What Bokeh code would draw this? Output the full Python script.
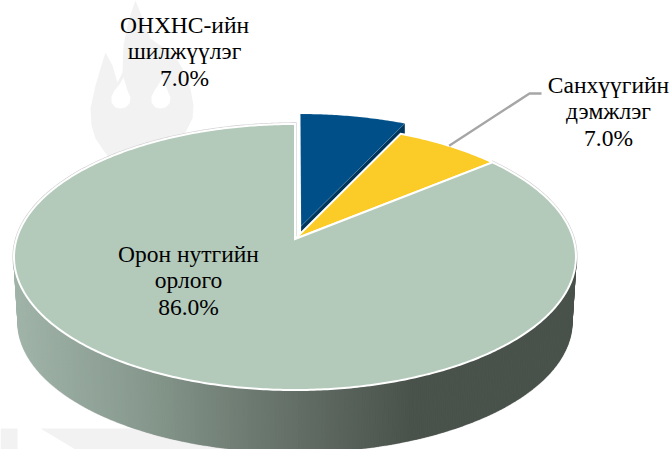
import numpy as np
from bokeh.plotting import figure
from bokeh.models import Range1d
from bokeh.core.properties import value
from bokeh.embed import file_html
from bokeh.resources import INLINE

# ---- data ----
categories = ["ОНХНС-ийн шилжүүлэг", "Санхүүгийн дэмжлэг", "Орон нутгийн орлого"]
shares = [7.0, 7.0, 86.0]
label_lines = [["ОНХНС-ийн", "шилжүүлэг", "7.0%"],
               ["Санхүүгийн", "дэмжлэг", "7.0%"],
               ["Орон нутгийн", "орлого", "86.0%"]]
top_colors = ["#004f88", "#fbcb27", "#b3cabb"]
explode = [0.102, 0.0, 0.0]

# ---- projection of the tilted disc ----
CX, CY, A, B, K = 294.5, 238.5, 278.4, 130.6, 0.1353
DEPTH, A2, B2 = 65.0, 0.985, 0.98
LEFT, TOP, W, H = 0, 0, 672, 449


def project(theta, r=1.0, ox=0.0, od=0.0, bottom=False):
    X = r * np.sin(theta) + ox
    D = -r * np.cos(theta) + od
    den = 1 - K * D
    sa, sb, dy = (A2, B2, DEPTH) if bottom else (1.0, 1.0, 0.0)
    return CX + sa * A * X / den, CY + dy + sb * B * D / den


p = figure(width=W, height=H, x_range=Range1d(LEFT, LEFT + W), y_range=Range1d(TOP + H, TOP),
           output_backend="svg", toolbar_location=None, min_border=0)
p.axis.visible = False
p.grid.visible = False
p.outline_line_color = None

# ---- faint watermark behind the chart ----
WM = "#f2f2f2"
flame_x = [135, 128, 123, 122, 117, 112, 105, 100, 95, 90, 91, 95, 103, 115, 175, 186, 192, 193, 190, 182, 172, 160, 150, 143]
flame_y = [0, 20, 45, 72, 82, 65, 52, 68, 85, 108, 125, 138, 150, 165, 165, 130, 118, 105, 88, 68, 52, 45, 38, 20]
p.patch(flame_x, flame_y, fill_color=WM, line_color=None)
drop_x = [123, 127, 130, 129, 125, 120, 115, 111, 111, 114, 119]
drop_y = [77, 90, 97, 103, 107, 108, 107, 102, 96, 90, 84]
p.patch(drop_x, drop_y, fill_color="white", line_color=None)
drop_x2 = [162, 167, 170, 169, 165, 160, 155, 151, 151, 154, 158]
p.patch(drop_x2, drop_y, fill_color="white", line_color=None)
p.patch([0, 17, 17, 0], [428, 428, 449, 449], fill_color=WM, line_color=None)
p.patch([40, 300, 300, 75], [428, 428, 449, 449], fill_color=WM, line_color=None)

# ---- slice geometry (clockwise from twelve o'clock) ----
edges = np.cumsum([0.0] + shares) / sum(shares) * 2 * np.pi
mids = (edges[:-1] + edges[1:]) / 2


def slice_outline(i):
    e = explode[i]
    ox, od = e * np.sin(mids[i]), -e * np.cos(mids[i])
    th = np.linspace(edges[i], edges[i + 1], int(max(20, shares[i] * 6)))
    xs, ys = project(th, 1.0, ox, od)
    ax, ay = project(0.0, 0.0, ox, od)
    return np.r_[ax, xs], np.r_[ay, ys]


# faint rim of the large slice, behind the wall
hx, hy = slice_outline(2)
p.patch(hx, hy, fill_color=None, line_color="#cfcfcf", line_width=3.2, line_join="miter")

# ---- side wall ----
stops_x = [18, 130, 250, 336, 410, 575]
stops_c = [(160, 179, 168), (138, 156, 145), (109, 122, 113), (90, 100, 93), (73, 82, 75), (73, 82, 75)]


def side_color(x):
    return "#%02x%02x%02x" % tuple(int(round(np.interp(x, stops_x, [c[i] for c in stops_c]))) for i in range(3))


th_side = np.radians(np.linspace(97.8, 262.2, 200))
sx, sy, sc = [], [], []
for t0, t1 in zip(th_side[:-1], th_side[1:]):
    x0, y0 = project(t0)
    x1, y1 = project(t1)
    x2, y2 = project(t1, bottom=True)
    x3, y3 = project(t0, bottom=True)
    sx.append([x0, x1, x2, x3])
    sy.append([y0, y1, y2, y3])
    sc.append(side_color((x0 + x1 + x2 + x3) / 4))
bx, by = project(th_side, bottom=True)
tx, ty = project(th_side)
p.line(bx, by, line_color="#d5d5d5", line_width=2.5)
p.line([tx[0], bx[0]], [ty[0], by[0]], line_color="#d5d5d5", line_width=2)
p.line([tx[-1], bx[-1]], [ty[-1], by[-1]], line_color="#d5d5d5", line_width=2)
p.patches(sx, sy, fill_color=sc, line_color=sc, line_width=1.6)

# side face of the pulled-out slice
ox0, od0 = explode[0] * np.sin(mids[0]), -explode[0] * np.cos(mids[0])
ax, ay = project(0.0, 0.0, ox0, od0)
cx_, cy_ = project(edges[1], 1.0, ox0, od0)
p.patch([ax, cx_, cx_, ax], [ay, cy_, cy_ + DEPTH, ay + DEPTH], fill_color="#00355c", line_color=None)

for i in range(3):
    px_, py_ = slice_outline(i)
    p.patch(px_, py_, fill_color=top_colors[i], line_color="white", line_width=2.0 if i else 0.1,
            line_join="miter")

# ---- leader line ----
leader_anchor = project((edges[1] + edges[2]) / 2)
p.line([leader_anchor[0], 529, 541], [leader_anchor[1], 93, 93], line_color="#a6a6a6", line_width=2.4)

# ---- labels ----
label_x = [184, 608, 188]
label_y = [24, 84, 253]
for lines, lx, ly in zip(label_lines, label_x, label_y):
    for j, s in enumerate(lines):
        p.text([lx], [ly + j * 26.5], text=[s], text_font=value("Liberation Serif"), text_font_size="23.5px",
               text_align="center", text_baseline="middle", text_color="#000000")

open("out.html", "w").write(file_html(p, INLINE))
